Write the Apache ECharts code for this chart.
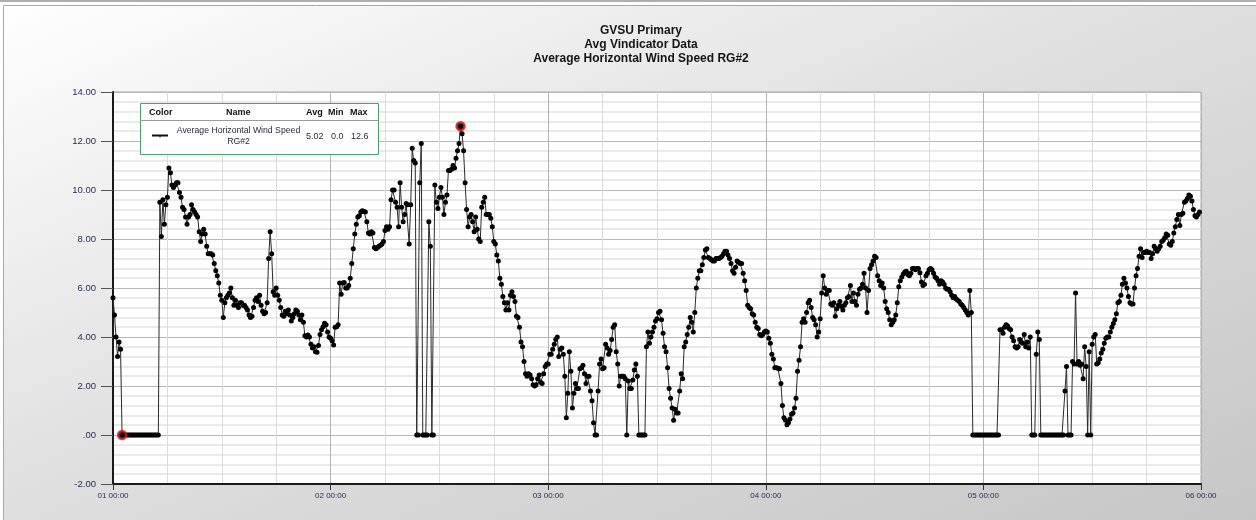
<!DOCTYPE html>
<html><head><meta charset="utf-8">
<script src="https://cdn.jsdelivr.net/npm/echarts@6/dist/echarts.min.js"></script>
<style>html,body{margin:0;padding:0;background:#fff;}#c{width:1256px;height:520px;}</style>
</head><body><div id="c"></div>
<script>
// 10-minute samples, one array per day (144 values each)
const stepMinutes = 10;
const day1 = [
5.6,4.9,4.0,3.2,3.8,3.5,
0,0,0,0,0, 0,0,0,0,0, 0,0,0,0,0, 0,0,0,0,0, 0,0,0,0,0,
9.5,8.1,9.6,8.6,9.4,9.7,10.9,10.7,10.2,10.1,
10.2,10.3,10.3,9.9,9.7,9.3,9.2,8.9,8.6,8.9,
9.0,9.4,9.2,9.1,9.0,8.9,8.3,7.9,8.2,8.4,
8.2,7.7,7.4,7.4,7.4,7.35,7.0,6.7,6.5,6.2,
5.7,5.5,4.8,5.4,5.6,5.7,5.8,6.0,5.6,5.3,
5.5,5.3,5.2,5.4,5.4,5.3,5.3,5.2,5.1,4.9,
4.8,4.85,5.2,5.5,5.6,5.45,5.7,5.3,5.05,4.95,
5.0,5.4,7.2,8.3,7.4,5.85,5.7,6.0,5.7,5.5,
5.2,4.9,4.85,5.05,4.95,5.1,4.9,4.65,4.8,4.95,
5.1,5.05,4.9,4.7,4.9,4.6,4.05,4.0,4.08,4.0,
3.7,3.55,3.6,3.4,3.38,3.65,4.1,4.3,4.42,4.56,
4.5,4.2,4.0];
const day2 = [
3.95,3.85,3.67,4.4,4.42,4.5,6.2,
5.75,6.2,6.22,6.0,6.0,6.1,6.4,7.0,7.6,8.2,
8.6,8.9,8.95,9.1,9.15,9.12,9.1,8.7,8.25,8.2,
8.3,8.25,7.65,7.6,7.65,7.7,7.75,7.8,7.9,8.35,
8.5,8.4,8.5,9.6,10.0,10.0,9.5,9.3,8.5,10.3,
9.3,8.7,9.0,9.45,9.4,7.8,9.4,11.7,11.2,11.1,
0,0,10.3,11.9,0,0,0,0,8.7,7.7,
0,0,10.2,9.5,9.25,9.7,10.1,9.7,9.0,9.5,
9.8,10.8,10.8,10.85,11.0,10.9,11.3,11.6,11.9,12.6,
12.3,11.6,10.3,9.2,8.5,8.9,9.0,8.7,8.3,8.9,
8.4,8.0,7.9,9.3,9.5,9.7,9.0,9.0,9.0,8.85,
8.5,7.9,7.8,7.35,7.1,6.4,6.15,5.65,5.4,5.1,
5.4,5.1,5.7,5.85,5.65,5.45,4.85,4.8,4.4,3.8,
3.6,3.0,2.5,2.4,2.5,2.45,2.3,2.05,2.0,2.05,
2.3,2.45,2.15,2.1,2.5,2.8,2.9];
const day3 = [
2.9,3.3,3.3,
3.5,3.7,3.9,4.0,3.2,3.5,3.55,3.3,2.4,0.7,
1.7,3.4,2.6,1.1,1.7,2.1,1.9,1.9,2.7,2.75,
2.85,2.5,2.1,2.4,2.4,1.8,1.4,0.5,0,0,
1.8,2.9,3.1,2.7,2.75,3.7,3.55,3.3,3.45,3.9,
4.4,4.5,3.4,2.9,2.0,2.4,2.4,2.4,2.3,0,
2.2,1.9,1.9,2.25,2.65,2.9,2.4,0,0,0,
0,0,3.6,4.2,3.75,4.0,4.2,4.4,4.65,4.75,
5.0,5.05,4.7,4.15,3.6,3.4,2.75,1.9,1.5,1.1,
0.6,1.05,0.9,0.9,1.8,2.5,2.3,3.6,3.8,4.1,
4.4,4.8,4.6,4.2,5.0,6.0,6.4,6.7,6.7,6.95,
7.25,7.55,7.6,7.25,7.2,7.15,7.1,7.1,7.2,7.2,
7.2,7.25,7.3,7.4,7.5,7.5,7.35,7.2,7.0,6.7,
6.6,6.85,7.1,7.05,7.0,7.0,6.6,6.3,5.9,5.3,
5.2,5.15,4.95,4.9,4.6,4.4,4.35,4.1,4.05,4.1,4.2];
const day4 = [
4.25,4.2,3.95,3.75,3.3,3.1,2.75,2.75,2.72,
2.7,2.1,1.2,0.7,0.6,0.42,0.5,0.65,0.85,0.9,
1.1,1.5,2.6,3.05,3.6,4.6,4.75,4.6,5.0,5.4,
5.5,5.2,4.8,4.7,4.5,4.0,4.2,4.75,5.8,6.5,
6.0,5.75,5.9,5.9,5.35,5.3,5.4,4.85,5.15,5.3,
5.45,5.25,5.1,5.3,5.4,5.6,5.65,6.1,5.45,5.8,
5.45,5.3,5.75,5.95,6.0,6.15,6.6,6.0,5.0,5.9,
6.8,6.95,7.1,7.3,7.25,6.5,6.3,6.1,6.2,6.0,
5.45,5.15,5.0,4.7,4.5,4.6,4.7,4.9,5.4,6.05,
6.3,6.45,6.57,6.65,6.68,6.55,6.5,6.6,6.8,6.8,
6.75,6.8,6.8,6.62,6.25,6.1,6.15,6.5,6.6,6.75,
6.8,6.75,6.6,6.45,6.4,6.3,6.15,6.3,6.25,6.15,
6.0,5.95,5.95,5.85,5.7,5.6,5.65,5.55,5.5,5.45,
5.35,5.3,5.2,5.1,5.0,4.9,5.9,5.0,
0,0,0,0,0,0,0];
const day5 = [
0,0,0,0,0,0,0,0,0,0,0,
4.3,4.3,4.15,4.4,
4.5,4.45,4.35,4.3,4.0,3.85,3.6,3.55,3.6,3.9,
3.8,3.75,4.1,3.6,3.8,3.55,4.0,0,0,0,
3.3,4.2,3.9,0,0,0,0,0,0,0,
0,0,0,0,0,0,0,0,0,1.8,
2.8,0,0,0,3.0,2.9,5.8,2.9,3.0,2.85,
2.9,2.3,3.6,2.8,0,3.4,0,3.7,4.0,4.1,
2.9,2.95,3.1,3.35,3.5,3.75,3.95,4.0,4.0,4.2,
4.4,4.55,4.7,4.95,5.4,5.45,5.7,6.15,6.4,6.2,
6.0,5.65,5.4,5.35,5.35,6.0,6.5,6.8,7.3,7.6,
7.25,7.45,7.45,7.5,7.45,7.45,7.2,7.4,7.7,7.6,
7.5,7.6,7.7,7.9,7.95,8.05,8.2,8.15,7.8,7.75,
7.9,8.25,8.5,8.8,9.0,8.55,9.0,9.05,9.5,9.55,
9.65,9.8,9.75,9.55,9.2,8.95,8.9,9.0,9.1];

const dayLabels = ['01 00:00','02 00:00','03 00:00','04 00:00','05 00:00','06 00:00'];
const titleLines = ['GVSU Primary','Avg Vindicator Data','Average Horizontal Wind Speed RG#2'];
const legendHeaders = ['Color','Name','Avg','Min','Max'];
const legendNameLines = ['Average Horizontal Wind Speed','RG#2'];
const legendStats = ['5.02','0.0','12.6'];

const values = day1.concat(day2, day3, day4, day5);
const points = values.map((v, i) => [i * stepMinutes / 60, v]);
let maxI = 0, minI = 0;
values.forEach((v, i) => { if (v > values[maxI]) maxI = i; if (v < values[minI]) minI = i; });
const extremes = [points[minI], points[maxI]];

const chart = echarts.init(document.getElementById('c'), null, {renderer: 'canvas'});
const FONT = '"Liberation Sans", Arial, sans-serif';
const labelColor = '#2b2b55';

const graphics = [
  {type: 'rect', shape: {x: 0, y: 0, width: 1256, height: 2}, style: {fill: '#aeaeae'}, silent: true},
  {type: 'rect', shape: {x: 0, y: 2, width: 1256, height: 3}, style: {fill: '#ffffff'}, silent: true},
  {type: 'rect', shape: {x: 0, y: 2, width: 3, height: 518}, style: {fill: '#ffffff'}, silent: true},
  {type: 'polyline', shape: {points: [[3.5, 520], [3.5, 5.5], [1256, 5.5]]}, style: {stroke: '#a8a8a8', lineWidth: 1, fill: null}, silent: true}
];
titleLines.forEach((t, i) => graphics.push({
  type: 'text', x: 641, y: 31 + i * 14,
  style: {text: t, font: 'bold 12px ' + FONT, fill: '#151515', align: 'center', verticalAlign: 'middle'}, silent: true
}));
// legend box
const lg = {x: 140.5, y: 103.5, w: 238, h: 51};
graphics.push({type: 'rect', z: 50, shape: {x: lg.x, y: lg.y, width: lg.w, height: lg.h},
  style: {fill: '#ffffff', stroke: '#4f9e6e', lineWidth: 1}, silent: true});
graphics.push({type: 'line', z: 51, shape: {x1: lg.x, y1: 120.5, x2: lg.x + lg.w, y2: 120.5},
  style: {stroke: '#9a9a9a', lineWidth: 1}, silent: true});
const headerX = [149, 226, 306, 328, 350];
legendHeaders.forEach((h, i) => graphics.push({type: 'text', z: 52, x: headerX[i], y: 113,
  style: {text: h, font: 'bold 9px ' + FONT, fill: '#111', align: 'left', verticalAlign: 'middle'}, silent: true}));
graphics.push({type: 'line', z: 52, shape: {x1: 152, y1: 135.5, x2: 168, y2: 135.5}, style: {stroke: '#111', lineWidth: 2}, silent: true});
graphics.push({type: 'line', z: 52, shape: {x1: 160, y1: 135, x2: 160, y2: 137.5}, style: {stroke: '#111', lineWidth: 1}, silent: true});
legendNameLines.forEach((t, i) => graphics.push({type: 'text', z: 52, x: 238.5, y: 131 + i * 11,
  style: {text: t, font: '8.7px ' + FONT, fill: '#2a2a3a', align: 'center', verticalAlign: 'middle'}, silent: true}));
const statX = [306, 331, 351];
legendStats.forEach((s, i) => graphics.push({type: 'text', z: 52, x: statX[i], y: 137,
  style: {text: s, font: '9px ' + FONT, fill: '#2a2a3a', align: 'left', verticalAlign: 'middle'}, silent: true}));

chart.setOption({
  animation: false,
  backgroundColor: new echarts.graphic.LinearGradient(0, 0, 368, 888, [
    {offset: 0, color: '#ffffff'}, {offset: 0.5, color: '#dedede'}, {offset: 1, color: '#c6c6c6'}], true),
  graphic: graphics,
  grid: {left: 113, right: 55, top: 92, bottom: 36, show: true, backgroundColor: '#ffffff',
    borderColor: '#a8a8a8', borderWidth: 1, containLabel: false},
  xAxis: {
    type: 'value', min: 0, max: 120, interval: 24,
    axisLine: {onZero: false, lineStyle: {color: '#1a1a1a', width: 2}},
    axisTick: {show: true, length: 6, lineStyle: {color: '#333', width: 1}},
    axisLabel: {margin: 8, fontSize: 8, fontFamily: FONT, color: labelColor,
      formatter: v => dayLabels[Math.round(v / 24)]},
    splitLine: {show: true, lineStyle: {color: '#b2b2b2', width: 1}},
    minorTick: {show: false, splitNumber: 4},
    minorSplitLine: {show: true, lineStyle: {color: '#dadada', width: 1}}
  },
  yAxis: {
    type: 'value', min: -2, max: 14, interval: 2,
    axisLine: {show: true, lineStyle: {color: '#1a1a1a', width: 2}},
    axisTick: {show: true, length: 12, lineStyle: {color: '#555', width: 1}},
    axisLabel: {margin: 17, fontSize: 9.5, fontFamily: FONT, color: labelColor,
      formatter: v => v === 0 ? '.00' : v.toFixed(2)},
    splitLine: {show: true, lineStyle: {color: '#b8b8b8', width: 1}},
    minorTick: {show: false, splitNumber: 5},
    minorSplitLine: {show: true, lineStyle: {color: '#e3e3e3', width: 1.5}}
  },
  series: [
    {type: 'line', name: 'Average Horizontal Wind Speed RG#2', data: points,
      symbol: 'circle', symbolSize: 5, showSymbol: true, showAllSymbol: true,
      lineStyle: {color: '#2a2a2a', width: 1}, itemStyle: {color: '#000'}, z: 3},
    {type: 'scatter', data: extremes, symbol: 'circle', symbolSize: 8,
      itemStyle: {color: '#000', borderColor: '#e8141b', borderWidth: 2.5}, z: 4}
  ]
});
</script></body></html>
